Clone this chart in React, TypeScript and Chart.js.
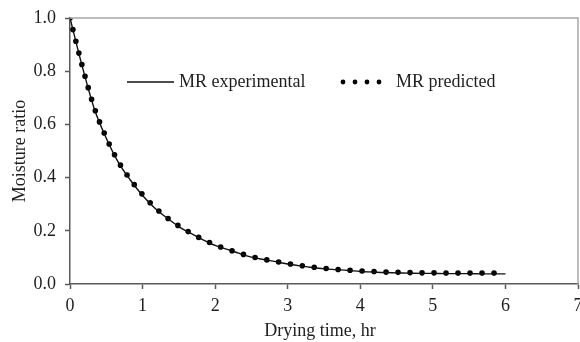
import React, { useEffect, useRef } from "react";
import { Chart, registerables } from "chart.js";

Chart.register(...registerables);

// Drying time in minutes (converted to hours for plotting)
const timeMinutes = [
  0, 10, 20, 30, 40, 50, 60, 70, 80, 90, 100, 110, 120, 130, 140, 150, 160, 170, 180,
  190, 200, 210, 220, 230, 240, 250, 260, 270, 280, 290, 300, 310, 320, 330, 340, 350, 360,
];

const mrExperimental = [
  1.0, 0.82, 0.66, 0.548, 0.457, 0.39, 0.333, 0.286, 0.249, 0.216, 0.19, 0.166, 0.145,
  0.13, 0.115, 0.101, 0.092, 0.084, 0.075, 0.068, 0.062, 0.057, 0.054, 0.051, 0.047,
  0.045, 0.043, 0.042, 0.041, 0.04, 0.04, 0.039, 0.039, 0.039, 0.038, 0.038, 0.038,
];

const mrPredicted = [
  1.0, 0.822, 0.664, 0.55, 0.46, 0.392, 0.336, 0.289, 0.25, 0.218, 0.191, 0.167, 0.147,
  0.131, 0.116, 0.103, 0.093, 0.085, 0.077, 0.07, 0.064, 0.059, 0.055, 0.052, 0.049,
  0.047, 0.045, 0.044, 0.043, 0.042, 0.042, 0.041, 0.041, 0.041, 0.041, 0.041, 0.041,
];

const xMin = 0;
const xMax = 7;
const xStep = 1;
const yMin = 0;
const yMax = 1.0;
const yStep = 0.2;

const seriesLabels = ["MR experimental", "MR predicted"];
const xTitle = "Drying time, hr";
const yTitle = "Moisture ratio";

const FONT = "'Liberation Serif', 'Times New Roman', serif";
const FS = 18;
const TEXT = "#1e1e1e";
const AXIS = "#5a5a5a";

export default function App() {
  const canvasRef = useRef<HTMLCanvasElement | null>(null);

  useEffect(() => {
    document.body.style.margin = "0";
    const canvas = canvasRef.current;
    if (!canvas) return;

    const expData = timeMinutes.map((m, i) => ({ x: m / 60, y: mrExperimental[i] }));
    const predData = timeMinutes.map((m, i) => ({ x: m / 60, y: mrPredicted[i] }));

    const framePlugin = {
      id: "frame",
      afterDraw(chart: any) {
        const { ctx, chartArea } = chart;
        ctx.save();
        ctx.strokeStyle = "#a8a8a8";
        ctx.lineWidth = 1.5;
        ctx.beginPath();
        ctx.moveTo(chartArea.left, chartArea.top);
        ctx.lineTo(chartArea.right, chartArea.top);
        ctx.lineTo(chartArea.right, chartArea.bottom);
        ctx.stroke();
        // x-axis title
        ctx.font = `${FS}px ${FONT}`;
        ctx.fillStyle = TEXT;
        ctx.textAlign = "center";
        ctx.textBaseline = "middle";
        ctx.fillText(xTitle, 320, 331);
        ctx.restore();
      },
    };

    const legendPlugin = {
      id: "insideLegend",
      afterDraw(chart: any) {
        const { ctx } = chart;
        const y = 82;
        ctx.save();
        ctx.font = `${FS}px ${FONT}`;
        ctx.fillStyle = TEXT;
        ctx.textBaseline = "middle";
        ctx.textAlign = "left";
        // solid line sample
        ctx.strokeStyle = "#111";
        ctx.lineWidth = 1.3;
        ctx.beginPath();
        ctx.moveTo(127, y);
        ctx.lineTo(174, y);
        ctx.stroke();
        ctx.fillText(seriesLabels[0], 179, y);
        // dotted sample
        ctx.fillStyle = "#000";
        for (let i = 0; i < 4; i++) {
          ctx.beginPath();
          ctx.arc(343 + i * 12, y, 2.4, 0, Math.PI * 2);
          ctx.fill();
        }
        ctx.fillStyle = TEXT;
        ctx.fillText(seriesLabels[1], 396, y);
        ctx.restore();
      },
    };

    const chart = new Chart(canvas, {
      type: "line",
      data: {
        datasets: [
          {
            label: seriesLabels[0],
            data: expData,
            borderColor: "#111",
            borderWidth: 1.4,
            pointRadius: 0,
            cubicInterpolationMode: "monotone",
            fill: false,
          },
          {
            label: seriesLabels[1],
            data: predData,
            borderColor: "#000",
            borderWidth: 5.6,
            borderDash: [0, 12],
            borderCapStyle: "round",
            pointRadius: 0,
            cubicInterpolationMode: "monotone",
            fill: false,
          },
        ],
      },
      options: {
        responsive: false,
        animation: false,
        devicePixelRatio: 1,
        layout: { padding: { left: 0, top: 18, right: 2, bottom: 0 } },
        plugins: {
          legend: { display: false },
          tooltip: { enabled: false },
        },
        scales: {
          x: {
            type: "linear",
            min: xMin,
            max: xMax,
            ticks: {
              stepSize: xStep,
              padding: 6,
              color: TEXT,
              font: { family: FONT, size: FS },
              maxRotation: 0,
              callback: (v: any) => String(v),
            },
            grid: {
              drawOnChartArea: false,
              drawTicks: true,
              tickLength: 5,
              tickColor: AXIS,
              tickWidth: 1.5,
            },
            border: { display: true, color: AXIS, width: 1.5 },
            title: { display: false },
            afterFit(scale: any) {
              scale.height = 58;
              scale.paddingLeft = 0;
              scale.paddingRight = 0;
            },
          },
          y: {
            type: "linear",
            min: yMin,
            max: yMax,
            ticks: {
              stepSize: yStep,
              padding: 9,
              color: TEXT,
              font: { family: FONT, size: FS },
              callback: (v: any) => Number(v).toFixed(1),
            },
            grid: {
              drawOnChartArea: false,
              drawTicks: true,
              tickLength: 5,
              tickColor: AXIS,
              tickWidth: 1.5,
            },
            border: { display: true, color: AXIS, width: 1.5 },
            title: {
              display: true,
              text: yTitle,
              color: TEXT,
              font: { family: FONT, size: FS, lineHeight: 1.2 },
              padding: { top: 9, bottom: 0 },
            },
            afterFit(scale: any) {
              scale.width = 70;
              scale.paddingTop = 0;
              scale.paddingBottom = 0;
            },
          },
        },
      },
      plugins: [framePlugin, legendPlugin],
    } as any);

    return () => {
      chart.destroy();
    };
  }, []);

  return (
    <div style={{ width: 580, height: 342, position: "relative" }}>
      <canvas ref={canvasRef} width={580} height={342} style={{ display: "block" }} />
    </div>
  );
}
